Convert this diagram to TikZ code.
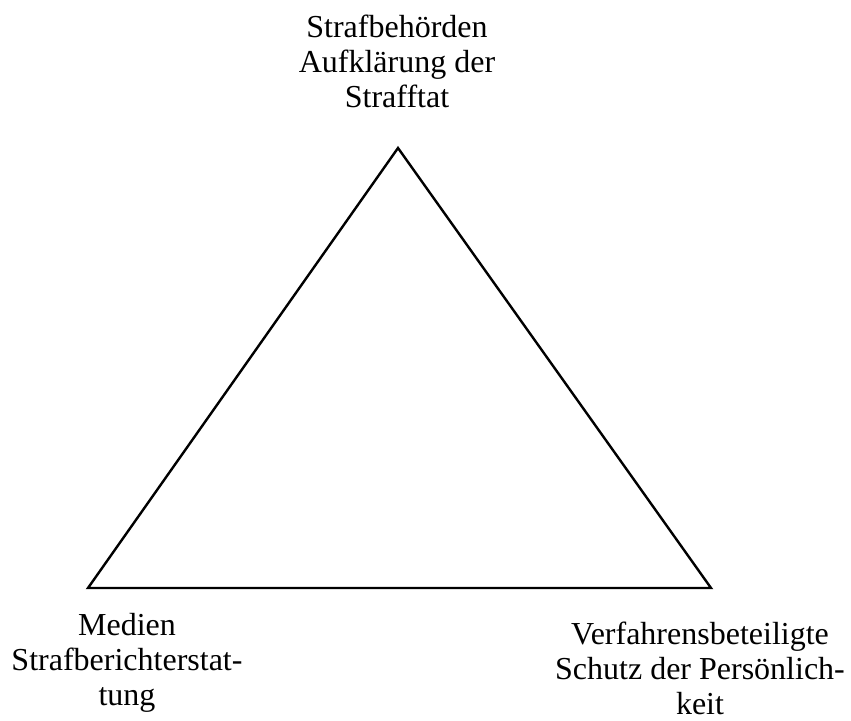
\documentclass[tikz,border=0pt]{standalone}
\usepackage{fontspec}
\setmainfont{Liberation Serif}
\usetikzlibrary{positioning}

\begin{document}
\begin{tikzpicture}[x=1pt,y=1pt]
\useasboundingbox (0,0) rectangle (851,720);
\draw[line width=2.4pt, line join=miter]
(398,572) coordinate (apex) -- (88,132) coordinate (lcorner)
    -- (711,132) coordinate (rcorner) -- cycle;
\path[
    every node/.style={align=center, anchor=base, inner sep=0pt,
        node font=\fontsize{32}{35}\selectfont},
]
node (behoerden) at (397,612) {Strafbehörden\\Aufklärung der\\Strafftat}
node (medien) at (127,15) {Medien\\Strafberichterstat-\\tung}
node (beteiligte) at (700,6) {Verfahrensbeteiligte\\Schutz der Persönlich-\\keit}
;
\end{tikzpicture}
\end{document}
